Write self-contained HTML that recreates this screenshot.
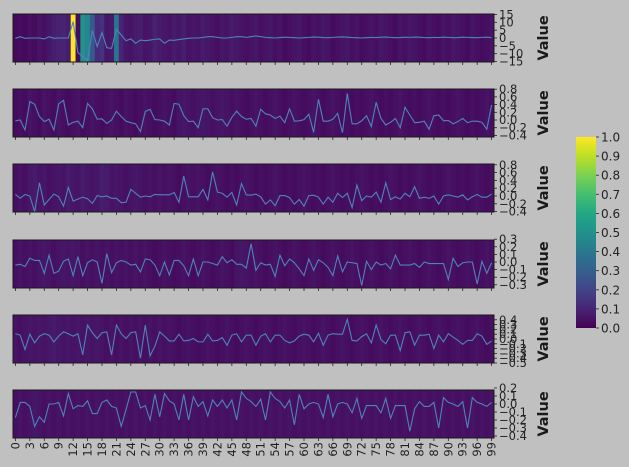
<!DOCTYPE html>
<html><head><meta charset="utf-8"><style>
body{margin:0;background:#c0c0c0;}
svg{display:block;font-family:"DejaVu Sans","Liberation Sans",sans-serif;}
</style></head><body>
<svg id="chart" width="629" height="467" xmlns="http://www.w3.org/2000/svg">
<rect width="629" height="467" fill="#c0c0c0"/>
</svg>
<script>
const categories = Array.from({length:100},(_,i)=>i);
const xTickLabels = [0,3,6,9,12,15,18,21,24,27,30,33,36,39,42,45,48,51,54,57,60,63,66,69,72,75,78,81,84,87,90,93,96,99];
const series1 = [-0.2,0.85,-0.2,0,0,0,-0.6,0.85,-0.2,0,0,0,10.4,-9.3,-11.9,-14.4,4.7,-5.5,3.4,-6.2,-6.6,5.5,1.9,-1.7,-0.6,-3.4,-1.3,-1.7,-1.3,-0.8,-0.6,-3.4,-1.3,-1.5,-1,-0.6,-0.2,0,0,0.4,0.85,0.85,0.4,0,0,0.4,0.85,0.85,0.4,0.85,1.3,0.85,0.4,0.2,0,0.3,0.5,0.4,0.2,0,0.2,0.4,0.6,0.5,0.3,0.2,0.4,0.6,0.7,0.5,0.3,0.2,0,0.2,0.4,0.3,0.5,0.6,0.4,0.2,0.3,0.5,0.4,0.6,0.5,0.3,0.2,0.4,0.3,0.5,0.4,0.2,0.3,0.5,0.4,0.3,0.2,0.4,0.5,0.3];
const series2 = [-0.02,0,-0.26,0.48,0.41,0.09,-0.04,0.02,-0.26,0.42,0.51,-0.13,-0.06,-0.03,-0.2,0.43,0.29,0.02,0.03,-0.09,0,0.23,0.09,-0.03,-0.07,-0.1,-0.3,0.22,0.28,0.01,0,-0.03,-0.13,0.43,0.41,0.11,-0.04,-0.03,-0.2,0.29,0.29,0.06,0,0.01,-0.16,0.07,0.23,0.09,0.02,0.04,-0.16,0.28,0.16,0.13,0.04,0.1,-0.07,0.29,-0.03,-0.02,0.01,0.15,-0.32,0.54,-0.03,-0.03,0.02,0.17,-0.33,0.69,-0.1,-0.1,-0.02,0.11,-0.17,0.46,0.04,-0.13,-0.06,0.04,-0.2,0.33,0.13,-0.07,-0.06,-0.03,-0.24,0.11,0.13,-0.02,-0.01,-0.1,-0.04,0.04,-0.07,-0.03,-0.03,-0.06,-0.24,0.39];
const series3 = [0.04,-0.06,0.04,0,-0.4,0.34,-0.23,-0.09,0.05,-0.02,-0.26,0.22,-0.13,-0.08,-0.03,-0.07,-0.19,0.01,-0.02,0,-0.06,-0.06,-0.17,-0.16,0.17,0.07,-0.03,0,-0.02,0.04,0.03,0.03,0.03,0.09,-0.16,0.51,-0.02,-0.02,-0.02,0.17,-0.1,0.62,0.1,0.07,-0.03,0.09,-0.23,0.32,0.03,0.02,0.05,-0.02,-0.21,-0.1,-0.25,0.01,0.01,-0.04,-0.21,-0.09,-0.26,0.01,0.02,-0.03,-0.21,-0.03,-0.16,0.07,-0.04,0.07,-0.3,0.28,-0.12,0,-0.03,0.1,-0.16,0.34,-0.09,-0.02,-0.08,0.07,-0.02,0.24,-0.06,-0.03,-0.06,0,-0.21,0,0.03,0,-0.03,0.03,-0.1,-0.02,0.04,-0.03,-0.03,0.05];
const series4 = [-0.04,-0.03,-0.06,0.05,0.02,0.02,-0.15,0.09,-0.15,-0.12,0.01,0.04,-0.18,0.07,-0.18,-0.01,0.03,0,-0.28,0.11,-0.14,-0.01,0.02,0,-0.04,-0.03,-0.13,0.04,0.03,-0.04,-0.18,0,-0.17,0.02,0.02,-0.05,-0.18,0.04,-0.18,0,0,-0.02,-0.04,0.07,-0.01,0.03,-0.03,-0.03,-0.08,0.24,-0.11,-0.01,-0.04,-0.03,-0.19,0.09,-0.05,0.04,-0.01,-0.09,-0.18,0.04,-0.11,0.03,-0.01,-0.07,-0.18,0.08,-0.13,0,-0.01,-0.02,-0.31,0.01,-0.1,0,-0.04,-0.02,-0.09,0.09,-0.04,-0.04,-0.04,-0.02,-0.07,0,-0.02,-0.02,-0.02,-0.02,-0.23,0.05,-0.06,-0.01,0,0,-0.29,0.01,-0.15,-0.01];
const series5 = [0.11,0.08,-0.22,0.1,-0.08,0.06,0.11,0.08,-0.06,0.06,0.15,0.11,0.06,0.11,-0.33,0.29,0.13,0.01,0.13,0.15,-0.33,0.29,0.11,0.01,0.13,0.15,-0.4,0.29,-0.35,-0.15,0.15,0.06,-0.04,-0.04,0.1,-0.04,-0.03,0.01,-0.06,-0.06,0.1,-0.04,-0.03,0.03,-0.13,0.08,0.11,-0.06,0.08,0.08,-0.13,0.06,0.11,-0.06,0.08,0.08,-0.03,-0.08,-0.04,0.06,0.1,0.08,-0.06,0.12,-0.13,0.08,0.11,0.1,0.1,0.41,-0.03,-0.04,0.05,0.11,-0.08,0.29,-0.01,-0.1,0.08,0.08,-0.24,0.13,0.15,-0.13,0.08,0.08,0.1,-0.2,0.08,-0.06,0.11,0.04,-0.03,-0.11,-0.03,-0.03,0.11,0.06,-0.11,-0.04];
const series6 = [-0.17,0.02,0.02,-0.03,-0.28,-0.16,-0.23,0,0,0.02,-0.15,0.13,-0.06,-0.02,-0.03,0.04,-0.12,-0.12,0.02,0.05,-0.03,-0.05,-0.28,-0.07,0.15,0.15,-0.05,-0.02,-0.2,0.12,-0.16,0.13,0.04,0,-0.2,0.12,-0.2,0.09,-0.03,0.03,-0.15,0.05,-0.03,0.05,-0.05,0.05,-0.2,0.15,0.07,0.03,-0.03,0.06,-0.2,0.15,0.07,0.03,-0.05,0.05,-0.26,0.12,-0.06,0,0.02,0,-0.17,0.12,-0.16,0,0.02,0,-0.11,0.07,-0.18,-0.02,-0.02,-0.02,-0.11,0.07,-0.18,-0.02,-0.02,-0.02,-0.34,-0.06,0.03,-0.03,-0.03,0.02,-0.3,0.08,0.02,0,-0.03,0.03,-0.3,0.08,0.02,0,-0.03,0.02];
const heat1 = [0.02,0.03,0.02,0.04,0.03,0.05,0.04,0.06,0.08,0.09,0.1,0.08,1.0,0.03,0.5,0.45,0.28,0.12,0.14,0.06,0.07,0.38,0.1,0.06,0.05,0.07,0.08,0.05,0.06,0.09,0.07,0.06,0.05,0.07,0.06,0.08,0.05,0.06,0.05,0.07,0.06,0.05,0.04,0.06,0.05,0.07,0.06,0.05,0.04,0.05,0.06,0.04,0.05,0.06,0.04,0.05,0.03,0.04,0.05,0.06,0.04,0.03,0.05,0.04,0.06,0.05,0.03,0.04,0.05,0.06,0.04,0.05,0.03,0.04,0.05,0.04,0.06,0.05,0.04,0.03,0.05,0.04,0.06,0.05,0.04,0.03,0.05,0.04,0.03,0.05,0.04,0.06,0.05,0.04,0.03,0.05,0.04,0.03,0.04,0.05];
const heat2 = [0.03,0.04,0.03,0.05,0.04,0.03,0.05,0.04,0.03,0.05,0.04,0.03,0.04,0.05,0.03,0.04,0.05,0.04,0.03,0.04,0.05,0.04,0.03,0.05,0.04,0.03,0.04,0.05,0.04,0.03,0.04,0.05,0.04,0.03,0.05,0.06,0.05,0.04,0.05,0.06,0.05,0.04,0.05,0.06,0.05,0.04,0.05,0.04,0.03,0.04,0.05,0.04,0.03,0.04,0.05,0.04,0.03,0.04,0.05,0.04,0.03,0.04,0.05,0.04,0.03,0.04,0.05,0.04,0.03,0.04,0.03,0.04,0.03,0.04,0.05,0.04,0.03,0.04,0.03,0.04,0.05,0.04,0.03,0.04,0.03,0.04,0.05,0.04,0.03,0.04,0.03,0.04,0.05,0.04,0.03,0.04,0.03,0.04,0.05,0.04];
const heat3 = [0.04,0.05,0.04,0.06,0.07,0.05,0.06,0.04,0.05,0.06,0.05,0.07,0.06,0.05,0.07,0.06,0.05,0.06,0.08,0.07,0.05,0.06,0.05,0.04,0.05,0.06,0.05,0.04,0.05,0.04,0.05,0.04,0.05,0.04,0.03,0.04,0.05,0.04,0.05,0.04,0.03,0.04,0.05,0.04,0.03,0.04,0.03,0.04,0.05,0.04,0.03,0.04,0.03,0.04,0.05,0.04,0.03,0.04,0.03,0.04,0.05,0.04,0.03,0.04,0.03,0.04,0.05,0.04,0.03,0.04,0.03,0.04,0.05,0.04,0.03,0.04,0.03,0.04,0.05,0.04,0.03,0.04,0.03,0.04,0.05,0.04,0.03,0.04,0.03,0.04,0.05,0.04,0.03,0.04,0.03,0.04,0.05,0.04,0.03,0.04];
const heat4 = [0.04,0.05,0.04,0.05,0.04,0.05,0.06,0.05,0.04,0.05,0.06,0.05,0.06,0.05,0.04,0.05,0.04,0.05,0.04,0.05,0.04,0.05,0.04,0.05,0.04,0.05,0.04,0.05,0.04,0.03,0.04,0.05,0.04,0.03,0.04,0.05,0.04,0.03,0.04,0.05,0.04,0.03,0.04,0.05,0.04,0.03,0.05,0.06,0.05,0.04,0.05,0.04,0.03,0.04,0.05,0.04,0.03,0.04,0.05,0.04,0.03,0.04,0.05,0.04,0.03,0.04,0.05,0.04,0.03,0.04,0.05,0.04,0.03,0.04,0.05,0.04,0.03,0.04,0.05,0.04,0.03,0.04,0.05,0.04,0.03,0.04,0.05,0.04,0.03,0.04,0.05,0.04,0.03,0.04,0.05,0.04,0.03,0.04,0.05,0.04];
const heat5 = [0.05,0.04,0.05,0.06,0.05,0.06,0.05,0.06,0.07,0.06,0.05,0.06,0.05,0.06,0.05,0.06,0.05,0.06,0.05,0.04,0.05,0.04,0.05,0.04,0.05,0.04,0.05,0.04,0.05,0.04,0.05,0.04,0.05,0.04,0.03,0.04,0.05,0.04,0.03,0.04,0.05,0.04,0.03,0.04,0.05,0.04,0.03,0.04,0.05,0.04,0.03,0.04,0.05,0.04,0.03,0.04,0.05,0.04,0.03,0.04,0.05,0.04,0.03,0.04,0.05,0.04,0.03,0.04,0.05,0.04,0.03,0.04,0.05,0.04,0.03,0.04,0.05,0.04,0.03,0.04,0.05,0.04,0.03,0.04,0.05,0.04,0.03,0.04,0.05,0.04,0.03,0.04,0.05,0.04,0.03,0.04,0.05,0.04,0.03,0.04];
const heat6 = [0.04,0.05,0.04,0.05,0.06,0.05,0.04,0.05,0.04,0.05,0.04,0.05,0.04,0.05,0.04,0.05,0.04,0.05,0.04,0.05,0.04,0.05,0.04,0.05,0.04,0.05,0.04,0.05,0.04,0.05,0.04,0.05,0.04,0.05,0.04,0.05,0.04,0.05,0.04,0.05,0.04,0.05,0.04,0.05,0.04,0.05,0.04,0.05,0.04,0.05,0.04,0.05,0.04,0.05,0.04,0.05,0.04,0.05,0.04,0.05,0.04,0.05,0.04,0.05,0.04,0.05,0.04,0.05,0.04,0.05,0.04,0.05,0.04,0.05,0.04,0.05,0.04,0.05,0.04,0.05,0.04,0.05,0.04,0.05,0.04,0.05,0.04,0.05,0.04,0.05,0.04,0.05,0.04,0.05,0.04,0.05,0.04,0.05,0.04,0.05];
const yTicks1 = [15,10,5,0,-5,-10,-15];
const yTicks2 = [0.8,0.6,0.4,0.2,0.0,-0.2,-0.4];
const yTicks3 = [0.8,0.6,0.4,0.2,0.0,-0.2,-0.4];
const yTicks4 = [0.3,0.2,0.1,0.0,-0.1,-0.2,-0.3];
const yTicks5 = [0.4,0.3,0.2,0.1,0.0,-0.1,-0.2,-0.3,-0.4,-0.5];
const yTicks6 = [0.2,0.1,0.0,-0.1,-0.2,-0.3,-0.4];
const cbTicks = [0.0,0.1,0.2,0.3,0.4,0.5,0.6,0.7,0.8,0.9,1.0];

const NS="http://www.w3.org/2000/svg";
const svg=document.getElementById('chart');
function mk(tag,attrs,parent){const e=document.createElementNS(NS,tag);for(const k in attrs)e.setAttribute(k,attrs[k]);(parent||svg).appendChild(e);return e;}
const vstops=[[68,1,84],[72,36,117],[65,68,135],[53,95,141],[42,120,142],[33,145,140],[34,168,132],[68,191,112],[122,209,81],[189,223,38],[253,231,37]];
function viridis(t){t=Math.max(0,Math.min(1,t));const f=t*10,i=Math.min(9,Math.floor(f)),r=f-i;const a=vstops[i],b=vstops[i+1];return 'rgb('+a.map((v,k)=>Math.round(v+(b[k]-v)*r)).join(',')+')';}
const X0=13,X1=494,CW=(X1-X0)/100;
function xPos(i){return X0+(i+0.5)*CW;}
function fmt(v,dec){const s=Math.abs(v).toFixed(dec);return (v<0?'\u2212':'')+s;}
const panels=[
 {top:14,bot:62,zero:38,scale:1.57,data:series1,heat:heat1,ticks:yTicks1,dec:0},
 {top:89,bot:137,zero:120,scale:38.5,data:series2,heat:heat2,ticks:yTicks2,dec:1},
 {top:164,bot:212,zero:196,scale:39,data:series3,heat:heat3,ticks:yTicks3,dec:1},
 {top:240,bot:288,zero:262,scale:76,data:series4,heat:heat4,ticks:yTicks4,dec:1},
 {top:315,bot:363,zero:339,scale:48,data:series5,heat:heat5,ticks:yTicks5,dec:1},
 {top:390,bot:438,zero:404,scale:80,data:series6,heat:heat6,ticks:yTicks6,dec:1}
];
panels.forEach((p,pi)=>{
 const g=mk('g',{});
 
 
 const clipId='clip'+pi;
 const cp=mk('clipPath',{id:clipId},g);mk('rect',{x:X0,y:p.top,width:X1-X0,height:p.bot-p.top},cp);
 const yS=v=>p.zero-v*p.scale;
 p.heat.forEach((h,i)=>{
  const c=mk('rect',{x:(X0+i*CW).toFixed(2),y:p.top,width:(CW+0.4).toFixed(2),height:p.bot-p.top,fill:viridis(h)},g);
  
  
 });
 const d=p.data.map((v,i)=>(i?'L':'M')+xPos(categories[i]).toFixed(2)+','+yS(v).toFixed(2)).join('');
 const ln=mk('path',{d:d,fill:'none',stroke:'#4f83bd',"stroke-width":1.1,"clip-path":'url(#'+clipId+')'},g);
 
 
 const fr=mk('rect',{x:X0,y:p.top,width:X1-X0,height:p.bot-p.top,fill:'none',stroke:'#1a1a1a',"stroke-width":1},g);
 
 
 xTickLabels.forEach(t=>{mk('line',{x1:xPos(t),x2:xPos(t),y1:p.bot,y2:p.bot+3,stroke:'#222',"stroke-width":0.8},g);});
 p.ticks.forEach(t=>{
  const y=yS(t);
  mk('line',{x1:X1,x2:X1+3,y1:y,y2:y,stroke:'#222',"stroke-width":0.8},g);
  const tx=mk('text',{x:X1+5,y:y+4,"font-size":11.5,fill:'#222'},g);tx.textContent=fmt(t,p.dec);
  
  
 });
 const mid=(p.top+p.bot)/2;
 const yl=mk('text',{x:548,y:mid,"font-size":14.5,"font-weight":'bold',fill:'#1a1a1a',"text-anchor":'middle',transform:'rotate(-90 548 '+mid+')'},g);
 yl.textContent='Value';
 
 
});
xTickLabels.forEach(t=>{
 const x=xPos(t);
 const tx=mk('text',{x:0,y:0,"font-size":11.5,fill:'#222',"text-anchor":'end',transform:'translate('+(x+4)+',442) rotate(-90)'});
 tx.textContent=String(t);
 
 
});
const CB={x:576,w:20,top:137,bot:328};
const cg=mk('g',{});


const defs=mk('defs',{},cg);
const lg=mk('linearGradient',{id:'vg',x1:0,y1:1,x2:0,y2:0},defs);
vstops.forEach((s,i)=>mk('stop',{offset:i/10,"stop-color":'rgb('+s.join(',')+')'},lg));
mk('rect',{x:CB.x,y:CB.top,width:CB.w,height:CB.bot-CB.top,fill:'url(#vg)'},cg);
cbTicks.forEach(t=>{
 const y=CB.bot-t*(CB.bot-CB.top);
 mk('line',{x1:CB.x+CB.w,x2:CB.x+CB.w+3,y1:y,y2:y,stroke:'#222',"stroke-width":0.8},cg);
 const tx=mk('text',{x:CB.x+CB.w+5,y:y+4.5,"font-size":12,fill:'#222'},cg);tx.textContent=t.toFixed(1);
 
 
});
</script>
</body></html>
